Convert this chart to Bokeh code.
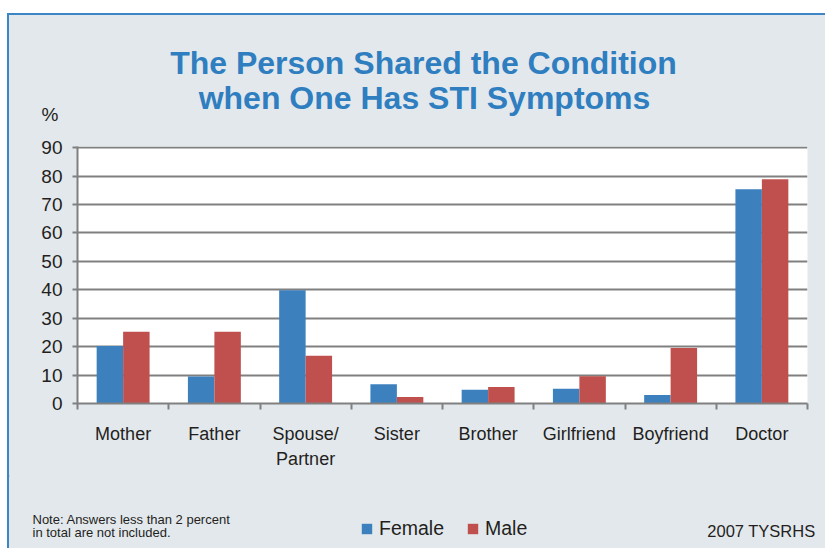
import numpy as np
from bokeh.plotting import figure
from bokeh.layouts import column
from bokeh.models import (Range1d, LinearAxis, FixedTicker, ColumnDataSource,
                          Legend, LegendItem)
from bokeh.transform import dodge
from bokeh.core.properties import value
from bokeh.embed import file_html
from bokeh.resources import INLINE

# ---- data ----
categories = ["Mother", "Father", "Spouse/\nPartner", "Sister", "Brother",
              "Girlfriend", "Boyfriend", "Doctor"]
female = [20.2, 9.5, 39.8, 6.8, 4.8, 5.2, 3.0, 75.4]
male = [25.2, 25.2, 16.8, 2.3, 5.8, 9.6, 19.5, 78.9]
y_ticks = [0, 10, 20, 30, 40, 50, 60, 70, 80, 90]
series = ["Female", "Male"]
title_lines = ["The Person Shared the Condition", "when One Has STI Symptoms"]
y_unit = "%"
note_lines = ["Note: Answers less than 2 percent", "in total are not included."]
source_note = "2007 TYSRHS"

BLUE = "#3C81BE"
RED = "#C0504D"
BG = "#E3E8ED"
EDGE = "#3D86C6"
GRID = "#808080"
TXT = "#231F20"
TITLE_C = "#2E7EC0"
FONT = "Liberation Sans"
W = 808


def blank(h):
    f = figure(width=W, height=h, output_backend="svg", toolbar_location=None,
               x_range=Range1d(0, W), y_range=Range1d(h, 0),
               x_axis_location=None, y_axis_location=None,
               min_border=0, frame_align=False)
    f.grid.visible = False
    f.background_fill_color = BG
    f.border_fill_color = BG
    f.outline_line_color = None
    return f


# ---- top: title ----
top = blank(115)
top.text(x=[414, 415], y=[47.5, 82.8], text=title_lines, text_align="center",
         text_baseline="middle", text_font=value(FONT), text_font_style="bold",
         text_font_size="32px", text_color=TITLE_C)
top.text(x=[40.5], y=[99], text=[y_unit], text_align="center", text_baseline="middle",
         text_font=value(FONT), text_font_size="19px", text_color=TXT)

# ---- main chart ----
n = len(categories)
pos = np.arange(n)
src = ColumnDataSource(dict(pos=pos, female=female, male=male))

p = figure(width=W, height=345, output_backend="svg", toolbar_location=None,
           x_range=Range1d(-0.5, n - 0.5), y_range=Range1d(0, 90.4),
           x_axis_location=None, y_axis_location=None, frame_align=False)
p.min_border_left = 68
p.min_border_right = 10
p.min_border_top = 16
p.min_border_bottom = 72
p.background_fill_color = "white"
p.border_fill_color = BG
p.outline_line_color = None

rf = p.vbar(x=dodge("pos", -0.145, range=p.x_range), top="female", width=0.29,
            source=src, fill_color=BLUE, line_color=None)
rm = p.vbar(x=dodge("pos", 0.145, range=p.x_range), top="male", width=0.29,
            source=src, fill_color=RED, line_color=None)

yax = LinearAxis(ticker=FixedTicker(ticks=y_ticks))
yax.axis_line_color = GRID
yax.axis_line_width = 2
yax.major_tick_line_color = GRID
yax.major_tick_line_width = 2
yax.major_tick_out = 5
yax.major_tick_in = 0
yax.minor_tick_line_color = None
yax.major_label_standoff = 10
yax.major_label_text_font = FONT
yax.major_label_text_font_size = "19px"
yax.major_label_text_color = TXT
p.add_layout(yax, "left")

xax = LinearAxis(ticker=FixedTicker(ticks=list(pos),
                                    minor_ticks=list(np.arange(n + 1) - 0.5)))
xax.axis_line_color = GRID
xax.axis_line_width = 2
xax.major_tick_line_color = None
xax.major_tick_out = 0
xax.major_tick_in = 0
xax.minor_tick_line_color = GRID
xax.minor_tick_line_width = 2
xax.minor_tick_out = 6
xax.minor_tick_in = 0
xax.major_label_overrides = {int(i): c for i, c in zip(pos, categories)}
xax.major_label_standoff = 14
xax.major_label_text_font = FONT
xax.major_label_text_font_size = "18px"
xax.major_label_text_color = TXT
xax.major_label_text_line_height = 1.25
p.add_layout(xax, "below")

p.xgrid.grid_line_color = None
p.ygrid.ticker = FixedTicker(ticks=y_ticks)
p.ygrid.grid_line_color = GRID
p.ygrid.grid_line_width = 2

# ---- bottom: note, legend, source ----
bot = blank(65)
bot.text(x=[23, 23], y=[43.5, 56.5], text=note_lines, text_align="left",
         text_baseline="middle", text_font=value(FONT), text_font_size="13px",
         text_color=TXT)
bot.text(x=[806], y=[55], text=[source_note], text_align="right", text_baseline="middle",
         text_font=value(FONT), text_font_size="16.5px", text_color=TXT)
lf = bot.vbar(x=[-1000], top=[1], width=1, fill_color=BLUE, line_color=None)
lm = bot.vbar(x=[-1000], top=[1], width=1, fill_color=RED, line_color=None)
legend = Legend(items=[LegendItem(label=series[0], renderers=[lf]),
                       LegendItem(label=series[1], renderers=[lm])],
                orientation="horizontal", location=(351, 0),
                label_text_font=FONT, label_text_font_size="19.5px", label_text_color=TXT,
                glyph_width=13, glyph_height=13, label_standoff=6, spacing=22,
                padding=0, margin=0, background_fill_alpha=0, border_line_alpha=0)
bot.add_layout(legend, "center")

layout = column(top, p, bot, spacing=0)
layout.styles = {
    "position": "relative", "left": "7px", "top": "13px",
    "background-color": BG,
    "border-top": f"2px solid {EDGE}", "border-left": f"2px solid {EDGE}",
    "box-shadow": (f"8px 2px 0 0 {BG}, 2px 8px 0 0 {BG}, 8px 8px 0 0 {BG}, "
                   f"8px 0 0 0 {EDGE}, 0 8px 0 0 {EDGE}"),
}

open("out.html", "w").write(file_html(layout, INLINE))
